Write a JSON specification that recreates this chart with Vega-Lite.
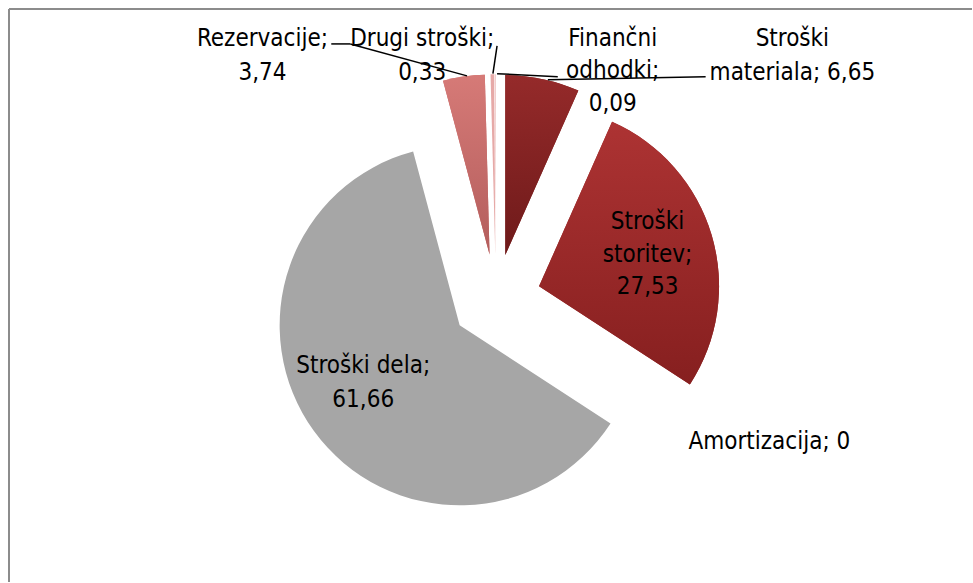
{
  "$schema": "https://vega.github.io/schema/vega-lite/v6.json",
  "width": 973,
  "height": 583,
  "autosize": {"type": "fit", "contains": "padding"},
  "padding": {"left": 8, "top": 8, "right": 0, "bottom": 0},
  "background": "white",
  "config": {
    "view": {"stroke": null},
    "text": {"font": "DejaVu Sans Condensed, sans-serif", "fontSize": 24, "color": "#000000", "lineHeight": 34, "align": "center", "baseline": "middle"}
  },
  "layer": [
    {
      "data": {"values": [
        {"category": "Stroški materiala", "value": 6.65},
        {"category": "Stroški storitev", "value": 27.53},
        {"category": "Amortizacija", "value": 0},
        {"category": "Stroški dela", "value": 61.66},
        {"category": "Rezervacije", "value": 3.74},
        {"category": "Drugi stroški", "value": 0.33},
        {"category": "Finančni odhodki", "value": 0.09}
      ]},
      "transform": [
        {"joinaggregate": [{"op": "sum", "field": "value", "as": "total"}]},
        {"window": [{"op": "sum", "field": "value", "as": "cum"}], "frame": [null, 0]},
        {"calculate": "2*PI*datum.cum/datum.total", "as": "t1"},
        {"calculate": "2*PI*(datum.cum-datum.value)/datum.total", "as": "t0"},
        {"calculate": "(datum.t0+datum.t1)/2", "as": "mid"},
        {"calculate": "0.25*sin(datum.mid)", "as": "cx"},
        {"calculate": "0.25*cos(datum.mid)", "as": "cy"}
      ],
      "encoding": {
        "x": {"field": "cx", "type": "quantitative", "scale": {"domain": [-2.7111, 2.65], "nice": false, "zero": false}, "axis": null},
        "y": {"field": "cy", "type": "quantitative", "scale": {"domain": [-1.5778, 1.6167], "nice": false, "zero": false}, "axis": null},
        "theta": {"field": "t0", "type": "quantitative", "scale": null, "stack": null},
        "theta2": {"field": "t1"}
      },
      "layer": [
        {
          "mark": {"type": "arc", "radius": 180},
          "encoding": {
            "color": {
              "field": "category", "type": "nominal", "legend": null,
              "scale": {
                "domain": ["Stroški materiala", "Stroški storitev", "Amortizacija", "Stroški dela", "Rezervacije", "Drugi stroški", "Finančni odhodki"],
                "range": ["#832222", "#9a2a2a", "#c0504d", "#a6a6a6", "#c86b69", "#e6a9a7", "#f0c8c6"]
              }
            }
          }
        },
        {
          "transform": [{"filter": "datum.category === 'Stroški materiala'"}],
          "mark": {"type": "arc", "radius": 180, "color": {"gradient": "linear", "x1": 0, "y1": 0, "x2": 0, "y2": 1, "stops": [{"offset": 0, "color": "#952a2a"}, {"offset": 1, "color": "#6e1a1a"}]}}
        },
        {
          "transform": [{"filter": "datum.category === 'Stroški storitev'"}],
          "mark": {"type": "arc", "radius": 180, "color": {"gradient": "linear", "x1": 0, "y1": 0, "x2": 0, "y2": 1, "stops": [{"offset": 0, "color": "#ad3333"}, {"offset": 1, "color": "#861f1f"}]}}
        },
        {
          "transform": [{"filter": "datum.category === 'Rezervacije'"}],
          "mark": {"type": "arc", "radius": 180, "color": {"gradient": "linear", "x1": 0, "y1": 0, "x2": 0, "y2": 1, "stops": [{"offset": 0, "color": "#d67a77"}, {"offset": 1, "color": "#b35d5c"}]}}
        }
      ]
    },
    {"data": {"values": [{}]}, "mark": {"type": "rule", "color": "#8c8c8c", "strokeWidth": 2}, "encoding": {"x": {"datum": -2.7111, "type": "quantitative"}, "y": {"datum": -1.5778, "type": "quantitative"}, "y2": {"datum": 1.6167}}},
    {"data": {"values": [{}]}, "mark": {"type": "rule", "color": "#8c8c8c", "strokeWidth": 2}, "encoding": {"x": {"datum": -2.7111, "type": "quantitative"}, "x2": {"datum": 2.65}, "y": {"datum": 1.6167, "type": "quantitative"}}},
    {"data": {"values": [{}]}, "mark": {"type": "rule", "color": "#000000", "strokeWidth": 1.5}, "encoding": {"x": {"datum": -0.917, "type": "quantitative"}, "x2": {"datum": -0.811}, "y": {"datum": 1.422, "type": "quantitative"}, "y2": {"datum": 1.422}}},
    {"data": {"values": [{}]}, "mark": {"type": "rule", "color": "#000000", "strokeWidth": 1.5}, "encoding": {"x": {"datum": -0.811, "type": "quantitative"}, "x2": {"datum": -0.161}, "y": {"datum": 1.422, "type": "quantitative"}, "y2": {"datum": 1.244}}},
    {"data": {"values": [{}]}, "mark": {"type": "rule", "color": "#000000", "strokeWidth": 1.5}, "encoding": {"x": {"datum": 0.006, "type": "quantitative"}, "x2": {"datum": -0.017}, "y": {"datum": 1.411, "type": "quantitative"}, "y2": {"datum": 1.256}}},
    {"data": {"values": [{}]}, "mark": {"type": "rule", "color": "#000000", "strokeWidth": 1.5}, "encoding": {"x": {"datum": 0.006, "type": "quantitative"}, "x2": {"datum": 0.344}, "y": {"datum": 1.256, "type": "quantitative"}, "y2": {"datum": 1.239}}},
    {"data": {"values": [{}]}, "mark": {"type": "rule", "color": "#000000", "strokeWidth": 1.5}, "encoding": {"x": {"datum": 0.289, "type": "quantitative"}, "x2": {"datum": 1.167}, "y": {"datum": 1.222, "type": "quantitative"}, "y2": {"datum": 1.239}}},
    {"data": {"values": [{}]}, "mark": {"type": "text"}, "encoding": {"x": {"datum": -1.3, "type": "quantitative"}, "y": {"datum": 1.45, "type": "quantitative"}, "text": {"value": ["Rezervacije;", "3,74"]}}},
    {"data": {"values": [{}]}, "mark": {"type": "text"}, "encoding": {"x": {"datum": -0.411, "type": "quantitative"}, "y": {"datum": 1.45, "type": "quantitative"}, "text": {"value": ["Drugi stroški;", "0,33"]}}},
    {"data": {"values": [{}]}, "mark": {"type": "text", "lineHeight": 32.5}, "encoding": {"x": {"datum": 0.65, "type": "quantitative"}, "y": {"datum": 1.45, "type": "quantitative"}, "text": {"value": ["Finančni", "odhodki;", "0,09"]}}},
    {"data": {"values": [{}]}, "mark": {"type": "text"}, "encoding": {"x": {"datum": 1.65, "type": "quantitative"}, "y": {"datum": 1.45, "type": "quantitative"}, "text": {"value": ["Stroški", "materiala; 6,65"]}}},
    {"data": {"values": [{}]}, "mark": {"type": "text", "lineHeight": 32.5}, "encoding": {"x": {"datum": 0.844, "type": "quantitative"}, "y": {"datum": 0.428, "type": "quantitative"}, "text": {"value": ["Stroški", "storitev;", "27,53"]}}},
    {"data": {"values": [{}]}, "mark": {"type": "text"}, "encoding": {"x": {"datum": -0.739, "type": "quantitative"}, "y": {"datum": -0.372, "type": "quantitative"}, "text": {"value": ["Stroški dela;", "61,66"]}}},
    {"data": {"values": [{}]}, "mark": {"type": "text"}, "encoding": {"x": {"datum": 1.522, "type": "quantitative"}, "y": {"datum": -0.8, "type": "quantitative"}, "text": {"value": "Amortizacija; 0"}}}
  ]
}
